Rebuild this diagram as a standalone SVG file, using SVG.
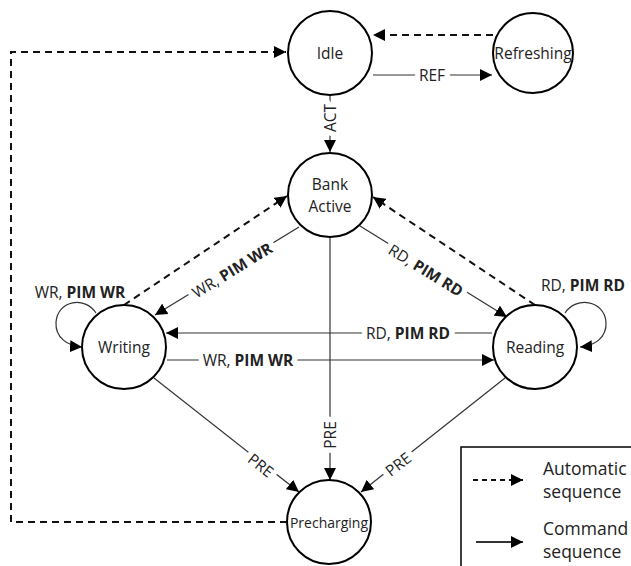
<svg xmlns="http://www.w3.org/2000/svg" width="631" height="566" viewBox="0 0 631 566">
<style>
.node{fill:#fff;stroke:#000;stroke-width:2}
.nt{font-family:"Open Sans","Noto Sans",sans-serif;font-size:15.5px;fill:#222;text-anchor:middle;dominant-baseline:central}
.lbl{font-family:"Open Sans","Noto Sans",sans-serif;font-size:15.5px;fill:#222;text-anchor:middle;dominant-baseline:central}
.halo{fill:#fff;stroke:#fff;stroke-width:11;stroke-linejoin:round}
.cmd{fill:none;stroke:#333;stroke-width:1.2;marker-end:url(#ah)}
.auto{fill:none;stroke:#111;stroke-width:2;stroke-dasharray:7,5;marker-end:url(#ah)}
.lg{font-family:"Open Sans","Noto Sans",sans-serif;font-size:17.5px;fill:#222}
</style>
<defs>
<marker id="ah" markerUnits="userSpaceOnUse" markerWidth="14" markerHeight="12" refX="12" refY="6" orient="auto">
<path d="M0,0 L12,6 L0,12 z" fill="#000"/>
</marker>
</defs>
<g id="connectors">
<path class="auto" d="M493,35 L373,35"/>
<path class="cmd" d="M373,75 L492,75"/>
<path class="cmd" d="M330,95 L330,152"/>
<path class="auto" d="M287,522 L11,522 L11,52 L286,52"/>
<path class="auto" d="M124,305 L287,196"/>
<path class="cmd" d="M299,227 L155,315"/>
<path class="cmd" d="M360,226 L507,317"/>
<path class="auto" d="M535,305 L373,197"/>
<path class="cmd" d="M492,333 L166,333"/>
<path class="cmd" d="M167,360 L494,360"/>
<path class="cmd" d="M96,313 C85,296 58,300 56,322 C55,338 68,346 82,347"/>
<path class="cmd" d="M565,313 C576,296 604,300 606,322 C607,338 594,346 580,347"/>
<path class="cmd" d="M330,238 L330,480"/>
<path class="cmd" d="M154,378 L299,492"/>
<path class="cmd" d="M505,378 L361,492"/>
<g class="lbl halo">
<text x="432" y="75">REF</text>
<text transform="translate(330,118) rotate(-90)">ACT</text>
<text transform="translate(232,270) rotate(-31.6)">WR, <tspan font-weight="bold">PIM WR</tspan></text>
<text transform="translate(426,270) rotate(31.6)">RD, <tspan font-weight="bold">PIM RD</tspan></text>
<text x="408" y="333">RD, <tspan font-weight="bold">PIM RD</tspan></text>
<text x="248" y="360">WR, <tspan font-weight="bold">PIM WR</tspan></text>
<text transform="translate(330,435) rotate(-90)">PRE</text>
<text transform="translate(261,465) rotate(38)">PRE</text>
<text transform="translate(398,464) rotate(-38)">PRE</text>
</g>
<g class="lbl">
<text x="432" y="75">REF</text>
<text transform="translate(330,118) rotate(-90)">ACT</text>
<text transform="translate(232,270) rotate(-31.6)">WR, <tspan font-weight="bold">PIM WR</tspan></text>
<text transform="translate(426,270) rotate(31.6)">RD, <tspan font-weight="bold">PIM RD</tspan></text>
<text x="408" y="333">RD, <tspan font-weight="bold">PIM RD</tspan></text>
<text x="248" y="360">WR, <tspan font-weight="bold">PIM WR</tspan></text>
<text x="80" y="292">WR, <tspan font-weight="bold">PIM WR</tspan></text>
<text x="583" y="285">RD, <tspan font-weight="bold">PIM RD</tspan></text>
<text transform="translate(330,435) rotate(-90)">PRE</text>
<text transform="translate(261,465) rotate(38)">PRE</text>
<text transform="translate(398,464) rotate(-38)">PRE</text>
</g>
</g>
<g id="idle"><circle class="node" cx="330" cy="53" r="42"/><text class="nt" x="330" y="53">Idle</text></g>
<g id="refreshing"><circle class="node" cx="533" cy="53" r="40"/><text class="nt" x="533" y="53">Refreshing</text></g>
<g id="bank-active"><circle class="node" cx="330" cy="195" r="42"/><text class="nt" x="330" y="184">Bank</text><text class="nt" x="330" y="206">Active</text></g>
<g id="writing"><circle class="node" cx="124" cy="347" r="42"/><text class="nt" x="124" y="347">Writing</text></g>
<g id="reading"><circle class="node" cx="535" cy="347" r="42"/><text class="nt" x="535" y="347">Reading</text></g>
<g id="precharging"><circle class="node" cx="329" cy="522" r="42"/><text class="nt" x="329" y="522" style="font-size:14px">Precharging</text></g>
<g id="legend">
<rect x="461" y="447" width="180" height="130" fill="#fff" stroke="#000" stroke-width="1.5"/>
<path class="auto" d="M473,480 L523,480" style="stroke-dasharray:5,4"/>
<path class="cmd" d="M476,542 L523,542" style="stroke-width:1.8"/>
<text class="lg" x="543" y="475">Automatic</text>
<text class="lg" x="543" y="498">sequence</text>
<text class="lg" x="543" y="535">Command</text>
<text class="lg" x="543" y="558">sequence</text>
</g>
</svg>
